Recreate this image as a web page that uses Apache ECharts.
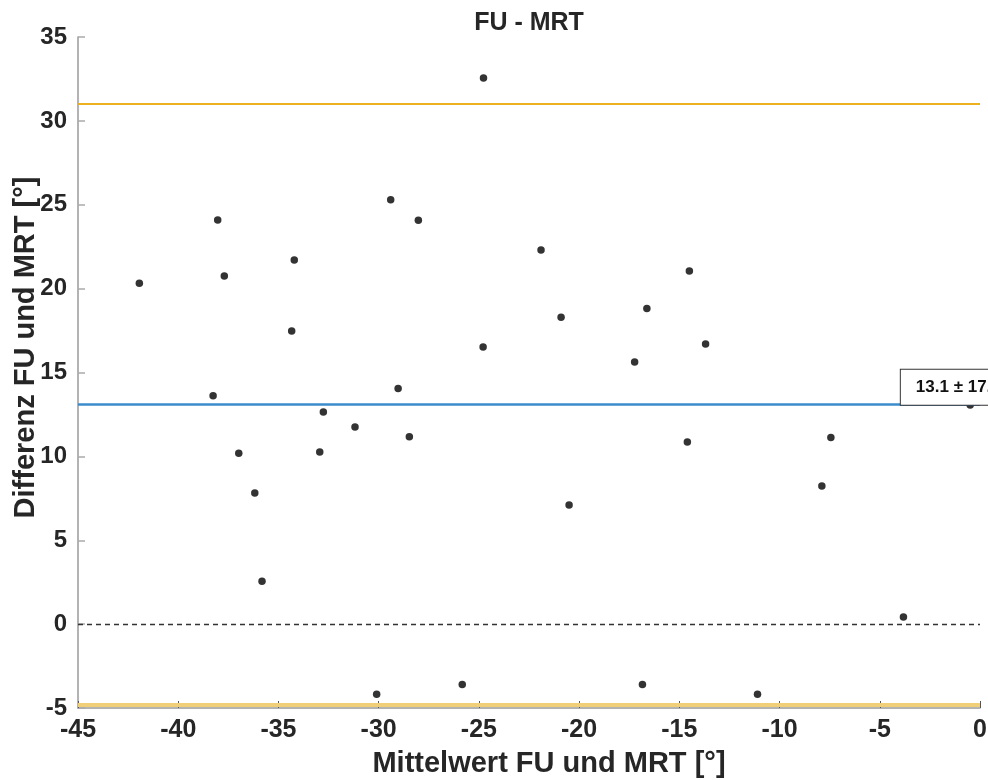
<!DOCTYPE html>
<html>
<head>
<meta charset="utf-8">
<title>FU - MRT</title>
<script src="https://cdn.jsdelivr.net/npm/echarts@6/dist/echarts.min.js"></script>
<style>
  html, body { margin: 0; padding: 0; background: #fff; }
  #chart { width: 988px; height: 780px; }
</style>
</head>
<body>
<div id="chart"></div>
<script>
// Bland-Altman plot: mean of FU and MRT (x) versus their difference (y)
const meanValues = [
  -41.94, -38.03, -37.70, -38.26, -36.98, -36.18, -35.82, -34.21, -34.34,
  -32.76, -32.94, -31.18, -30.10, -29.40, -29.03, -28.47, -28.02, -25.83,
  -24.77, -24.79, -21.90, -20.90, -20.50, -17.23, -16.84, -16.62, -14.50,
  -14.60, -13.69, -11.10, -7.89, -7.44, -3.82, -0.49
];
const diffValues = [
  20.32, 24.09, 20.75, 13.61, 10.18, 7.81, 2.55, 21.71, 17.47,
  12.64, 10.26, 11.75, -4.18, 25.30, 14.05, 11.17, 24.07, -3.60,
  32.56, 16.52, 22.30, 18.29, 7.10, 15.62, -3.60, 18.82, 21.05,
  10.85, 16.70, -4.18, 8.23, 11.13, 0.42, 13.06
];

// Bias and half-width of the limits of agreement
const bias = 13.1;
const loaHalfWidth = 17.9;
const upperLoA = +(bias + loaHalfWidth).toFixed(1);
const lowerLoA = +(bias - loaHalfWidth).toFixed(1);

// Axis ranges and tick step
const xRange = [-45, 0];
const yRange = [-5, 35];
const tickStep = 5;

// x position where the bias annotation box is anchored
const annotationX = -3.95;

const textColor = '#262626';
const axisColor = '#9a9a9a';
const fontFamily = '"Liberation Sans", Arial, Helvetica, sans-serif';

const points = meanValues.map((m, i) => [m, diffValues[i]]);

const chart = echarts.init(document.getElementById('chart'), null, { renderer: 'canvas' });

chart.setOption({
  backgroundColor: '#ffffff',
  animation: false,
  title: {
    text: 'FU - MRT',
    left: 524,
    top: 6,
    textAlign: 'center',
    textStyle: { fontFamily, fontSize: 25, fontWeight: 'bold', color: textColor }
  },
  grid: {
    left: 78, right: 8, top: 37, bottom: 72,
    containLabel: false,
    outerBoundsMode: 'none'
  },
  xAxis: {
    type: 'value',
    min: xRange[0],
    max: xRange[1],
    interval: tickStep,
    name: 'Mittelwert FU und MRT [°]',
    nameLocation: 'middle',
    nameGap: 41,
    nameMoveOverlap: false,
    nameTextStyle: {
      fontFamily, fontSize: 29, fontWeight: 'bold', color: textColor,
      padding: [0, 0, 0, 40]
    },
    axisLine: { show: true, onZero: false, lineStyle: { color: axisColor, width: 1.5 } },
    axisTick: { show: true, inside: true, length: 7, lineStyle: { color: '#555', width: 1 } },
    axisLabel: { fontFamily, fontSize: 25, fontWeight: 'bold', color: textColor, margin: 10 },
    splitLine: { show: false }
  },
  yAxis: {
    type: 'value',
    min: yRange[0],
    max: yRange[1],
    interval: tickStep,
    name: 'Differenz FU und MRT [°]',
    nameLocation: 'middle',
    nameGap: 38,
    nameMoveOverlap: false,
    nameTextStyle: {
      fontFamily, fontSize: 29, fontWeight: 'bold', color: textColor,
      padding: [0, 0, 0, 50]
    },
    axisLine: { show: true, onZero: false, lineStyle: { color: axisColor, width: 1.5 } },
    axisTick: { show: true, inside: true, length: 7, lineStyle: { color: '#aaa', width: 1.5 } },
    axisLabel: { fontFamily, fontSize: 24, fontWeight: 'bold', color: textColor, margin: 11 },
    splitLine: { show: false }
  },
  series: [
    {
      name: 'Differenz',
      type: 'scatter',
      data: points,
      symbol: 'circle',
      symbolSize: 7.5,
      itemStyle: { color: '#000' },
      z: 3,
      markLine: {
        silent: true,
        symbol: ['none', 'none'],
        label: { show: false },
        data: [
          { yAxis: 0, lineStyle: { color: '#333', type: [5, 4], width: 1.3 } },
          { yAxis: bias, lineStyle: { color: '#3b8bcb', type: 'solid', width: 2.5 } },
          { yAxis: upperLoA, lineStyle: { color: '#EDB120', type: 'solid', width: 2.2 } },
          { yAxis: lowerLoA, lineStyle: { color: '#f1cf78', type: 'solid', width: 4 } }
        ]
      }
    },
    {
      name: 'Bias-Beschriftung',
      type: 'scatter',
      data: [],
      z: 10,
      markPoint: {
        silent: true,
        symbol: 'circle',
        symbolSize: 0,
        data: [{ coord: [annotationX, bias] }],
        label: {
          show: true,
          position: 'right',
          distance: 0,
          offset: [0, -17],
          formatter: bias.toFixed(1) + ' ± ' + loaHalfWidth.toFixed(1),
          fontFamily,
          fontSize: 17,
          fontWeight: 'bold',
          color: '#111',
          backgroundColor: '#fff',
          borderColor: '#333',
          borderWidth: 1,
          padding: [9, 15, 9, 15],
          lineHeight: 17
        }
      }
    }
  ]
});
</script>
</body>
</html>
